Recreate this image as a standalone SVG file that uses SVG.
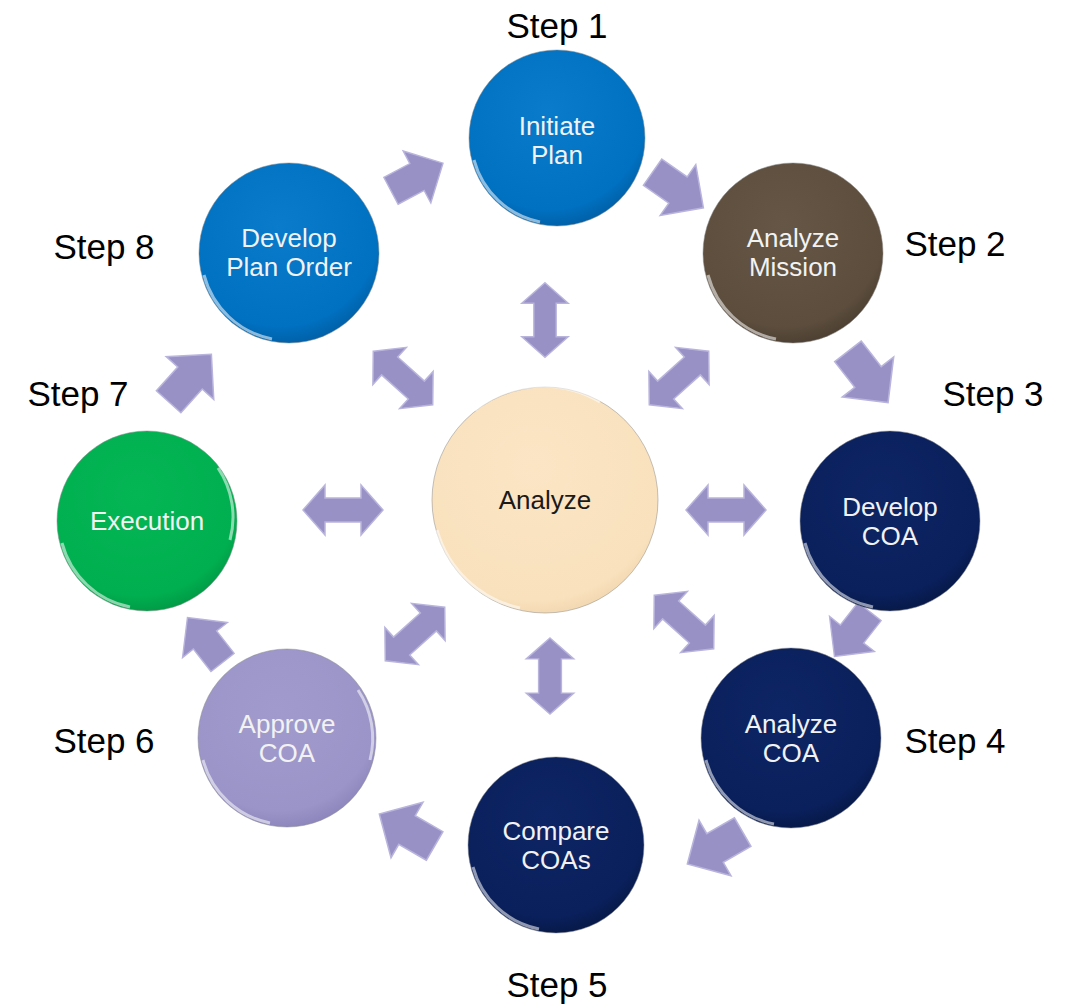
<svg xmlns="http://www.w3.org/2000/svg" xmlns:xlink="http://www.w3.org/1999/xlink" width="1071" height="1004" viewBox="0 0 1071 1004">
<style>
.step{font-family:"Liberation Sans",Arial,sans-serif;font-size:35px;fill:#000;text-anchor:middle}
.lbl{font-family:"Liberation Sans",Arial,sans-serif;font-size:26px;fill:#f2f2f2;text-anchor:middle}
.dark{fill:#1a1a1a}
.arr{fill:#9891c6;stroke:#b9b4dc;stroke-width:1.5;stroke-linejoin:miter}
.rim{fill:none;stroke:#ffffff;stroke-width:3;stroke-opacity:0.55}
.edge{fill:none;stroke:#8a8a8a;stroke-width:1;stroke-opacity:0.5}
</style>
<defs>
<radialGradient id="gBlue" cx="0.45" cy="0.35" r="0.7"><stop offset="0" stop-color="#0a7bcb"/><stop offset="0.8" stop-color="#0070c0"/><stop offset="1" stop-color="#005a9e"/></radialGradient>
<radialGradient id="gBrown" cx="0.45" cy="0.35" r="0.7"><stop offset="0" stop-color="#655645"/><stop offset="0.8" stop-color="#5c4d3d"/><stop offset="1" stop-color="#463a2d"/></radialGradient>
<radialGradient id="gNavy" cx="0.45" cy="0.35" r="0.7"><stop offset="0" stop-color="#0e2565"/><stop offset="0.8" stop-color="#0a205c"/><stop offset="1" stop-color="#061640"/></radialGradient>
<radialGradient id="gLav" cx="0.45" cy="0.35" r="0.7"><stop offset="0" stop-color="#a19bcd"/><stop offset="0.8" stop-color="#9a94c8"/><stop offset="1" stop-color="#8680b8"/></radialGradient>
<radialGradient id="gGreen" cx="0.45" cy="0.35" r="0.7"><stop offset="0" stop-color="#05b655"/><stop offset="0.8" stop-color="#00b050"/><stop offset="1" stop-color="#009242"/></radialGradient>
<radialGradient id="gPeach" cx="0.45" cy="0.35" r="0.7"><stop offset="0" stop-color="#fbe5c4"/><stop offset="0.85" stop-color="#f9e1bd"/><stop offset="1" stop-color="#efd3aa"/></radialGradient>
<path id="sa" d="M-31,-16 L0,-16 L0,-31 L31,0 L0,31 L0,16 L-31,16 Z"/>
<path id="da" d="M-40,0 L-18,-25 L-18,-12 L18,-12 L18,-25 L40,0 L18,25 L18,12 L-18,12 L-18,25 Z"/>
</defs>

<g id="connectors">
<use xlink:href="#sa" class="arr" transform="translate(417,177) rotate(-28) scale(0.95)"/>
<use xlink:href="#sa" class="arr" transform="translate(678,190) rotate(35)"/>
<use xlink:href="#sa" class="arr" transform="translate(868,377) rotate(52) scale(1.05)"/>
<use xlink:href="#sa" class="arr" transform="translate(852,634) rotate(128) scale(0.92)"/>
<use xlink:href="#sa" class="arr" transform="translate(715,848) rotate(150) scale(1.03)"/>
<use xlink:href="#sa" class="arr" transform="translate(407,830) rotate(210) scale(1.03)"/>
<use xlink:href="#sa" class="arr" transform="translate(205,640) rotate(232) scale(0.92)"/>
<use xlink:href="#sa" class="arr" transform="translate(190,378) rotate(-48) scale(1.03)"/>

<use xlink:href="#da" class="arr" transform="translate(545,320) rotate(90) scale(0.93)"/>
<use xlink:href="#da" class="arr" transform="translate(679,378) rotate(-42)"/>
<use xlink:href="#da" class="arr" transform="translate(726,510)"/>
<use xlink:href="#da" class="arr" transform="translate(684,622) rotate(42)"/>
<use xlink:href="#da" class="arr" transform="translate(550,676) rotate(90) scale(0.95)"/>
<use xlink:href="#da" class="arr" transform="translate(415,634) rotate(-42)"/>
<use xlink:href="#da" class="arr" transform="translate(343,510)"/>
<use xlink:href="#da" class="arr" transform="translate(403,378) rotate(42)"/>
</g>

<g id="center">
<circle cx="545" cy="500" r="113" fill="url(#gPeach)"/>
<circle cx="545" cy="500" r="113" class="edge"/>
<path d="M437,530 A110,110 0 0 0 520,608" class="rim" stroke-opacity="0.8"/>
<path d="M475,410 A110,110 0 0 1 600,402" class="rim" stroke-opacity="0.7"/>
<text x="545" y="509" class="lbl dark">Analyze</text>
</g>

<g id="n1">
<circle cx="557" cy="138" r="88" fill="url(#gBlue)"/>
<circle cx="557" cy="138" r="88" class="edge"/>
<path d="M474,160 A86,86 0 0 0 540,222" class="rim"/>
<text x="557" y="135" class="lbl">Initiate</text>
<text x="557" y="164" class="lbl">Plan</text>
</g>

<g id="n2">
<circle cx="793" cy="253" r="90" fill="url(#gBrown)"/>
<circle cx="793" cy="253" r="90" class="edge"/>
<path d="M708,275 A88,88 0 0 0 776,339" class="rim"/>
<text x="793" y="247" class="lbl">Analyze</text>
<text x="793" y="276" class="lbl">Mission</text>
</g>

<g id="n3">
<circle cx="890" cy="521" r="90" fill="url(#gNavy)"/>
<circle cx="890" cy="521" r="90" class="edge"/>
<path d="M805,543 A88,88 0 0 0 873,607" class="rim"/>
<text x="890" y="516" class="lbl">Develop</text>
<text x="890" y="545" class="lbl">COA</text>
</g>

<g id="n4">
<circle cx="791" cy="738" r="90" fill="url(#gNavy)"/>
<circle cx="791" cy="738" r="90" class="edge"/>
<path d="M706,760 A88,88 0 0 0 774,824" class="rim"/>
<text x="791" y="733" class="lbl">Analyze</text>
<text x="791" y="762" class="lbl">COA</text>
</g>

<g id="n5">
<circle cx="556" cy="845" r="88" fill="url(#gNavy)"/>
<circle cx="556" cy="845" r="88" class="edge"/>
<path d="M473,867 A86,86 0 0 0 539,929" class="rim"/>
<text x="556" y="840" class="lbl">Compare</text>
<text x="556" y="869" class="lbl">COAs</text>
</g>

<g id="n6">
<circle cx="287" cy="738" r="89" fill="url(#gLav)"/>
<circle cx="287" cy="738" r="89" class="edge"/>
<path d="M203,760 A87,87 0 0 0 270,823" class="rim"/>
<path d="M358,690 A87,87 0 0 1 370,760" class="rim" stroke-opacity="0.6"/>
<text x="287" y="733" class="lbl">Approve</text>
<text x="287" y="762" class="lbl">COA</text>
</g>

<g id="n7">
<circle cx="147" cy="521" r="90" fill="url(#gGreen)"/>
<circle cx="147" cy="521" r="90" class="edge"/>
<path d="M62,543 A88,88 0 0 0 130,607" class="rim"/>
<path d="M218,468 A88,88 0 0 1 230,540" class="rim" stroke-opacity="0.6"/>
<text x="147" y="530" class="lbl">Execution</text>
</g>

<g id="n8">
<circle cx="289" cy="253" r="90" fill="url(#gBlue)"/>
<circle cx="289" cy="253" r="90" class="edge"/>
<path d="M204,275 A88,88 0 0 0 272,339" class="rim"/>
<text x="289" y="247" class="lbl">Develop</text>
<text x="289" y="276" class="lbl">Plan Order</text>
</g>

<g id="steps">
<text x="557" y="38" class="step">Step 1</text>
<text x="955" y="256" class="step">Step 2</text>
<text x="993" y="406" class="step">Step 3</text>
<text x="955" y="753" class="step">Step 4</text>
<text x="557" y="997" class="step">Step 5</text>
<text x="104" y="753" class="step">Step 6</text>
<text x="78" y="406" class="step">Step 7</text>
<text x="104" y="259" class="step">Step 8</text>
</g>
</svg>
